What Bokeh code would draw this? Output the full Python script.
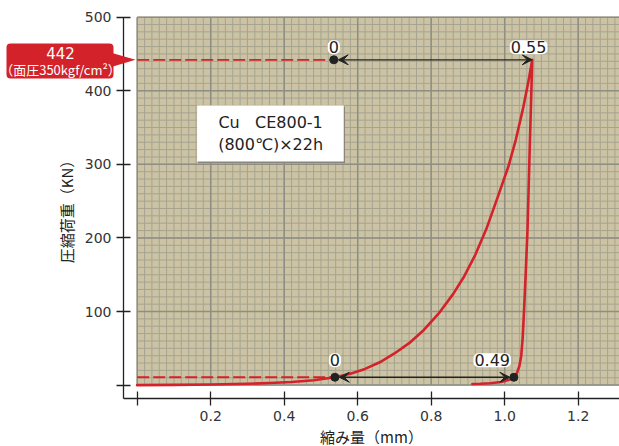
import numpy as np
from bokeh.plotting import figure
from bokeh.models import (Range1d, FixedTicker, Label, BoxAnnotation, PolyAnnotation,
                          Arrow, VeeHead)
from bokeh.embed import file_html
from bokeh.resources import INLINE

# ---------------- data ----------------
load_x = [0.00, 0.10, 0.20, 0.30, 0.36, 0.42, 0.48, 0.538, 0.58, 0.62, 0.66, 0.70, 0.74,
          0.78, 0.82, 0.86, 0.89, 0.92, 0.95, 0.98, 1.01, 1.03, 1.05, 1.065, 1.075]
load_y = [0, 0.3, 0.8, 1.8, 2.8, 4.3, 6.6, 10.7, 15.5, 22, 31, 43, 57,
          75, 97, 124, 148, 177, 212, 254, 297, 333, 376, 414, 442]
unload_x = [1.075, 1.068, 1.062, 1.057, 1.053, 1.049, 1.045, 1.040, 1.033, 1.025, 1.010,
            0.990, 0.960, 0.934, 0.912]
unload_y = [442, 320, 210, 150, 105, 65, 40, 26, 16, 10.7, 7, 4.3, 2.6, 1.9, 1.6]

x_ticks = [0, 0.2, 0.4, 0.6, 0.8, 1.0, 1.2]
x_tick_labels = ["", "0.2", "0.4", "0.6", "0.8", "1.0", "1.2"]
y_ticks = [0, 100, 200, 300, 400, 500]
y_tick_labels = ["", "100", "200", "300", "400", "500"]

max_load = 442
preload = 10.7
top_start_x = 0.535
bottom_start_x = 0.538
peak_x = 1.075
return_x = 1.025
top_start_text = "0"
peak_text = "0.55"
bottom_start_text = "0"
return_text = "0.49"
callout_value = "442"
callout_note = "（面圧350kgf/cm²）"
note_line1 = "Cu\u00a0\u00a0\u00a0CE800-1"
note_line2 = "(800℃)×22h"
x_title = "縮み量（mm）"
y_title = "圧縮荷重（KN）"

# ---------------- styles ----------------
BEIGE = "#cbc3a3"
MINOR = "#a6a491"
MAJOR = "#8f8e84"
RED = "#d3222a"
INK = "#222222"
TICK_FONT = "DejaVu Sans"
CJK_FONT = "Noto Sans CJK JP"

# frame covers the whole canvas; axes are drawn at fixed data locations
x0, x1 = -0.372, 1.3124
y0, y1 = -83.4, 522.6
x_corner, y_corner = -0.0373, -18.2

p = figure(width=619, height=446, x_range=Range1d(x0, x1), y_range=Range1d(y0, y1),
           output_backend="svg", toolbar_location=None,
           min_border_left=0, min_border_right=0, min_border_top=0, min_border_bottom=0)
p.outline_line_color = None
p.background_fill_color = "white"
p.border_fill_color = "white"
p.xgrid.visible = False
p.ygrid.visible = False

# beige chart paper
p.quad(left=0, right=x1, bottom=0, top=500, fill_color=BEIGE, line_color=None)
minor_x = np.arange(0, x1, 0.02)
minor_y = np.arange(0, 501, 10)
p.segment(x0=minor_x, y0=0, x1=minor_x, y1=500, line_color=MINOR, line_width=1)
p.segment(x0=0, y0=minor_y, x1=x1, y1=minor_y, line_color=MINOR, line_width=1)
major_x = np.arange(0, x1, 0.2)
major_y = np.arange(0, 501, 100)
p.segment(x0=major_x, y0=0, x1=major_x, y1=500, line_color=MAJOR, line_width=1.5)
p.segment(x0=0, y0=major_y, x1=x1, y1=major_y, line_color=MAJOR, line_width=1.5)

# note box
p.quad(left=0.1655, right=0.5655, bottom=301.8, top=378.5, fill_color="#8a877a", line_color=None)
p.quad(left=0.163, right=0.562, bottom=303.8, top=380, fill_color="white", line_color=None)
p.add_layout(Label(x=0.363, y=356.7, text=note_line1, text_align="center", text_baseline="middle",
                   text_font=TICK_FONT, text_font_size="16px", text_color=INK))
p.add_layout(Label(x=0.363, y=326.5, text=note_line2, text_align="center", text_baseline="middle",
                   text_font=TICK_FONT, text_font_size="16px", text_color=INK))

# dashed reference lines
p.line([0, top_start_x], [max_load, max_load], line_color=RED, line_width=1.8, line_dash="12 4")
p.line([0, bottom_start_x], [preload, preload], line_color=RED, line_width=1.8, line_dash="12 4")

# curve
p.line(load_x + unload_x[1:], load_y + unload_y[1:], line_color=RED, line_width=2.6,
       line_join="round", line_cap="round")

# arrows
head = dict(size=10, fill_color=INK, line_color=INK, line_width=1)
p.add_layout(Arrow(x_start=top_start_x + 0.012, y_start=max_load, x_end=peak_x, y_end=max_load,
                   start=VeeHead(**head), end=VeeHead(**head), line_color=INK, line_width=1.3))
p.add_layout(Arrow(x_start=bottom_start_x + 0.012, y_start=preload, x_end=return_x - 0.011, y_end=preload,
                   start=VeeHead(**head), end=VeeHead(**head), line_color=INK, line_width=1.3))

# dots
p.scatter([top_start_x, bottom_start_x, return_x], [max_load, preload, preload], size=8,
          color=INK)

# value labels
lab = dict(text_align="center", text_baseline="middle", text_font=TICK_FONT, text_font_size="16px",
           text_color=INK, background_fill_color="white", border_radius=5, padding=1)
p.add_layout(Label(x=top_start_x, y=max_load + 17, text=top_start_text, **lab))
p.add_layout(Label(x=peak_x - 0.010, y=max_load + 17, text=peak_text, **lab))
p.add_layout(Label(x=bottom_start_x, y=preload + 23, text=bottom_start_text, **lab))
p.add_layout(Label(x=return_x - 0.059, y=preload + 23, text=return_text, **lab))

# callout in left margin
p.add_layout(BoxAnnotation(left=-0.3557, right=-0.0645, bottom=416.6, top=464.1,
                           fill_color=RED, fill_alpha=1, line_color=None, border_radius=4))
p.add_layout(PolyAnnotation(xs=[-0.066, -0.0046, -0.066], ys=[451, max_load, 433],
                            fill_color=RED, fill_alpha=1, line_color=None))
p.add_layout(Label(x=-0.2087, y=451.5, text=callout_value, text_align="center", text_baseline="middle",
                   text_font=TICK_FONT, text_font_size="15px", text_color="white"))
p.add_layout(Label(x=-0.2087, y=428.5, text=callout_note, text_align="center", text_baseline="middle",
                   text_font=CJK_FONT, text_font_size="13px", text_color="white"))

# axes
for ax in (p.xaxis[0], p.yaxis[0]):
    ax.axis_line_color = INK
    ax.axis_line_width = 1.3
    ax.major_tick_line_color = INK
    ax.major_tick_line_width = 1.3
    ax.major_tick_in = 7
    ax.major_tick_out = 7
    ax.minor_tick_line_color = None
    ax.major_label_text_font = TICK_FONT
    ax.major_label_text_font_size = "14px"
    ax.major_label_text_color = "#333333"
    ax.axis_label_text_font = CJK_FONT
    ax.axis_label_text_font_size = "15px"
    ax.axis_label_text_font_style = "normal"
    ax.axis_label_text_color = INK

p.xaxis.fixed_location = y_corner
p.xaxis.bounds = (x_corner, x1)
p.yaxis.fixed_location = x_corner
p.yaxis.bounds = (y_corner, 500)
p.xaxis.ticker = FixedTicker(ticks=x_ticks)
p.xaxis.major_label_overrides = dict(zip(x_ticks, x_tick_labels))
p.yaxis.ticker = FixedTicker(ticks=y_ticks)
p.yaxis.major_label_overrides = dict(zip(y_ticks, y_tick_labels))
p.xaxis.axis_label = x_title
p.yaxis.axis_label = y_title
p.xaxis.major_label_standoff = 5
p.xaxis.axis_label_standoff = 2
p.yaxis.major_label_standoff = 5
p.yaxis.axis_label_standoff = 5

open("out.html", "w").write(file_html(p, INLINE))
